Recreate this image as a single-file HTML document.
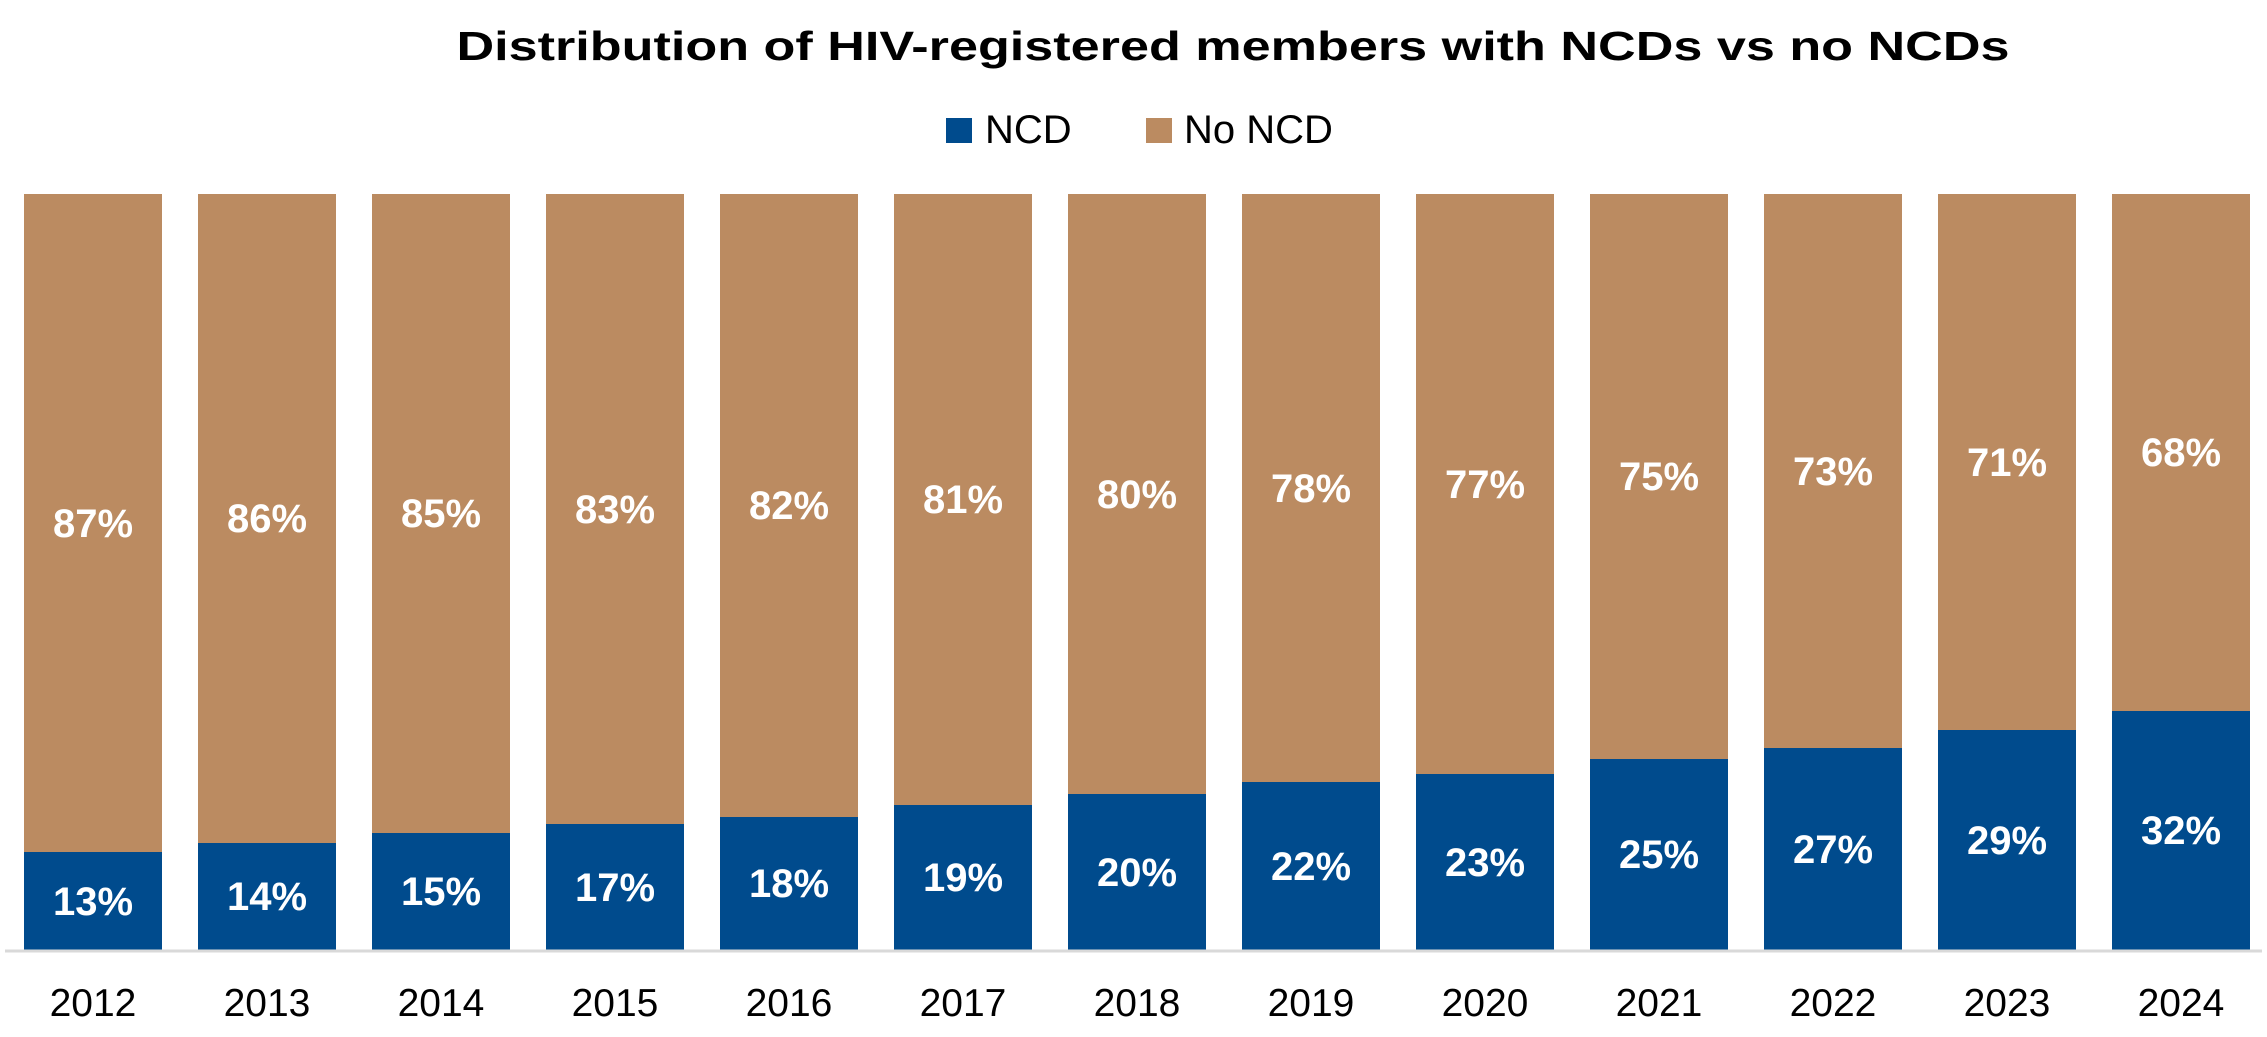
<!DOCTYPE html>
<html><head><meta charset="utf-8"><style>
html,body{margin:0;padding:0;background:#fff;}
svg{display:block;}
</style></head><body>
<svg width="2267" height="1037" xmlns="http://www.w3.org/2000/svg" font-family="Liberation Sans, Arial, sans-serif">
<text x="1233" y="60" text-anchor="middle" font-size="41" font-weight="bold" fill="#000" textLength="1553" lengthAdjust="spacingAndGlyphs">Distribution of HIV-registered members with NCDs vs no NCDs</text>
<rect x="946" y="118" width="26" height="25" fill="#004B8D"/>
<text x="985" y="143" font-size="40" fill="#000">NCD</text>
<rect x="1146" y="118" width="26" height="25" fill="#BB8B61"/>
<text x="1184" y="143" font-size="40" fill="#000">No NCD</text>
<g fill="#BB8B61">
<rect x="24" y="194" width="138" height="756"/><rect x="198" y="194" width="138" height="756"/><rect x="372" y="194" width="138" height="756"/><rect x="546" y="194" width="138" height="756"/><rect x="720" y="194" width="138" height="756"/><rect x="894" y="194" width="138" height="756"/><rect x="1068" y="194" width="138" height="756"/><rect x="1242" y="194" width="138" height="756"/><rect x="1416" y="194" width="138" height="756"/><rect x="1590" y="194" width="138" height="756"/><rect x="1764" y="194" width="138" height="756"/><rect x="1938" y="194" width="138" height="756"/><rect x="2112" y="194" width="138" height="756"/>
</g>
<g fill="#004B8D">
<rect x="24" y="852" width="138" height="98"/><rect x="198" y="843" width="138" height="107"/><rect x="372" y="833" width="138" height="117"/><rect x="546" y="824" width="138" height="126"/><rect x="720" y="817" width="138" height="133"/><rect x="894" y="805" width="138" height="145"/><rect x="1068" y="794" width="138" height="156"/><rect x="1242" y="782" width="138" height="168"/><rect x="1416" y="774" width="138" height="176"/><rect x="1590" y="759" width="138" height="191"/><rect x="1764" y="748" width="138" height="202"/><rect x="1938" y="730" width="138" height="220"/><rect x="2112" y="711" width="138" height="239"/>
</g>
<g fill="#fff" font-size="40" font-weight="bold" text-anchor="middle">
<text x="93" y="915">13%</text><text x="93" y="537">87%</text>
<text x="267" y="910">14%</text><text x="267" y="532">86%</text>
<text x="441" y="905">15%</text><text x="441" y="527">85%</text>
<text x="615" y="901">17%</text><text x="615" y="523">83%</text>
<text x="789" y="897">18%</text><text x="789" y="519">82%</text>
<text x="963" y="891">19%</text><text x="963" y="513">81%</text>
<text x="1137" y="886">20%</text><text x="1137" y="508">80%</text>
<text x="1311" y="880">22%</text><text x="1311" y="502">78%</text>
<text x="1485" y="876">23%</text><text x="1485" y="498">77%</text>
<text x="1659" y="868">25%</text><text x="1659" y="490">75%</text>
<text x="1833" y="863">27%</text><text x="1833" y="485">73%</text>
<text x="2007" y="854">29%</text><text x="2007" y="476">71%</text>
<text x="2181" y="844">32%</text><text x="2181" y="466">68%</text>
</g>
<g fill="#000" font-size="39" text-anchor="middle">
<text x="93" y="1016">2012</text><text x="267" y="1016">2013</text><text x="441" y="1016">2014</text><text x="615" y="1016">2015</text><text x="789" y="1016">2016</text><text x="963" y="1016">2017</text><text x="1137" y="1016">2018</text><text x="1311" y="1016">2019</text><text x="1485" y="1016">2020</text><text x="1659" y="1016">2021</text><text x="1833" y="1016">2022</text><text x="2007" y="1016">2023</text><text x="2181" y="1016">2024</text>
</g>
<line x1="5" y1="951" x2="2262" y2="951" stroke="#d9d9d9" stroke-width="3"/>
</svg>
</body></html>
